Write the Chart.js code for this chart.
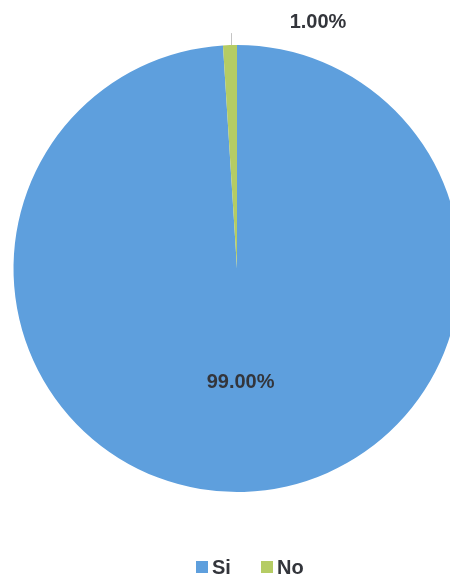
<!DOCTYPE html>
<html>
<head>
<meta charset="utf-8">
<script src="https://cdn.jsdelivr.net/npm/chart.js@4/dist/chart.umd.min.js"></script>
<style>
  html, body { margin: 0; padding: 0; background: #fff; overflow: hidden; }
  #wrap { position: relative; width: 470px; height: 581px; }
</style>
</head>
<body>
<div id="wrap"><canvas id="pieChart"></canvas></div>
<script>
const categories = ["Si", "No"];
const percentages = [99.0, 1.0];
const sliceColours = ["#5E9FDD", "#B5CC64"];

const TEXT_COLOUR = "#33353b";
const FONT_FAMILY = "'Liberation Sans', Arial, sans-serif";

// value labels: the big slice gets its label inside, the thin one outside with a leader line
const sliceLabels = {
  id: "sliceLabels",
  afterDatasetsDraw(chart) {
    const ctx = chart.ctx;
    const meta = chart.getDatasetMeta(0);
    ctx.save();
    ctx.font = "bold 20px " + FONT_FAMILY;
    ctx.fillStyle = TEXT_COLOUR;
    ctx.textBaseline = "middle";
    meta.data.forEach((arc, i) => {
      const text = percentages[i].toFixed(2) + "%";
      const mid = (arc.startAngle + arc.endAngle) / 2;
      if (percentages[i] > 10) {
        const r = arc.outerRadius * 0.51;
        ctx.textAlign = "center";
        ctx.fillText(text, arc.x + Math.cos(mid) * r, arc.y + Math.sin(mid) * r);
      } else {
        const x0 = arc.x + Math.cos(mid) * arc.outerRadius;
        const y0 = arc.y + Math.sin(mid) * arc.outerRadius;
        ctx.strokeStyle = "#c4c4c4";
        ctx.lineWidth = 1;
        ctx.beginPath();
        ctx.moveTo(Math.round(x0) + 1.5, y0);
        ctx.lineTo(Math.round(x0) + 1.5, y0 - 12);
        ctx.stroke();
        ctx.textAlign = "center";
        ctx.fillText(text, x0 + 88, y0 - 23);
      }
    });
    ctx.restore();
  },
};

// legend drawn centred under the pie
const bottomLegend = {
  id: "bottomLegend",
  afterDraw(chart) {
    const ctx = chart.ctx;
    ctx.save();
    ctx.font = "bold 20px " + FONT_FAMILY;
    ctx.textBaseline = "middle";
    ctx.textAlign = "left";
    const positions = [196, 261];
    categories.forEach((name, i) => {
      const x = positions[i];
      ctx.fillStyle = sliceColours[i];
      ctx.fillRect(x, 561, 12, 12);
      ctx.fillStyle = TEXT_COLOUR;
      ctx.fillText(name, x + 16, 568);
    });
    ctx.restore();
  },
};

new Chart(document.getElementById("pieChart"), {
  type: "pie",
  data: {
    labels: categories,
    datasets: [
      {
        data: percentages,
        backgroundColor: sliceColours,
        borderWidth: 0,
      },
    ],
  },
  options: {
    responsive: true,
    maintainAspectRatio: false,
    animation: false,
    layout: {
      padding: { left: 13.5, right: 9.5, top: 45, bottom: 89 },
    },
    plugins: {
      legend: { display: false },
      tooltip: { enabled: false },
    },
  },
  plugins: [sliceLabels, bottomLegend],
});
</script>
</body>
</html>
